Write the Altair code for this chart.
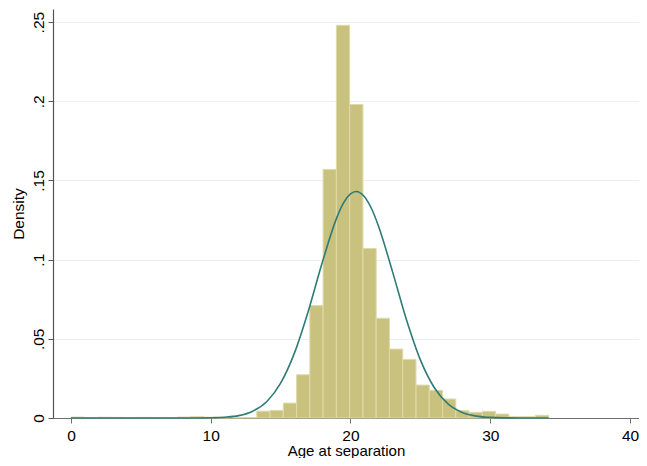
import altair as alt
import pandas as pd

# Histogram: bins start at 0 with equal width; density per bin
bin_start = 0.0
bin_width = 0.9495
density = [
    0.0006, 0.0003, 0.0005, 0.0004, 0.0003, 0.0004, 0.0003, 0.0002, 0.0006,
    0.0008, 0.0005, 0.0002, 0.0002, 0.0003, 0.0043, 0.0048, 0.0094, 0.0273,
    0.0710, 0.1570, 0.2480, 0.1980, 0.1070, 0.0630, 0.0435, 0.0370, 0.0208,
    0.0175, 0.0120, 0.0046, 0.0036, 0.0042, 0.0025, 0.0008, 0.0008, 0.0017,
]

# Normal density overlay
curve_x = [0, 4, 8, 10, 11, 12, 13, 14, 15, 16, 17, 18, 19, 19.5, 20, 20.4,
           21, 21.5, 22, 23, 24, 25, 26, 27, 28, 29, 30, 31, 32, 34.18]
curve_y = [0.0, 0.0, 0.00001, 0.00014, 0.0005, 0.0015, 0.0043, 0.0103, 0.0220,
           0.0413, 0.0681, 0.0988, 0.1261, 0.1358, 0.1415, 0.1430, 0.1397,
           0.1323, 0.1213, 0.0926, 0.0622, 0.0367, 0.0191, 0.0087, 0.0035,
           0.0012, 0.0004, 0.0001, 0.00003, 0.0]

x_ticks = [0, 10, 20, 30, 40]
y_ticks = [0, 0.05, 0.1, 0.15, 0.2, 0.25]

bars = pd.DataFrame({
    "left": [bin_start + k * bin_width for k in range(len(density))],
    "density": density,
})
bars["right"] = bars["left"] + bin_width
bars["base"] = 0.0

curve = pd.DataFrame({"x": curve_x, "y": curve_y})

FONT = "Liberation Sans"
FS = 15.5

xscale = alt.Scale(domain=[-1.288, 40.644], nice=False, zero=False)
yscale = alt.Scale(domain=[0, 0.2583], nice=False, zero=False)

x_axis = alt.Axis(
    values=x_ticks, title="Age at separation", grid=False, format="d",
    labelFontSize=FS, titleFontSize=15, labelFont=FONT, titleFont=FONT,
    labelColor="#000000", titleColor="#000000", titleFontWeight="normal",
    domainColor="#6e6e6e", tickColor="#6e6e6e", tickSize=5, domainWidth=1.2,
    labelPadding=5, titlePadding=0, labelFlush=False, labelOverlap=False,
)
y_axis = alt.Axis(
    values=y_ticks, title="Density", grid=True, gridColor="#e9f0f2", gridWidth=1,
    labelExpr="datum.value == 0 ? '0' : replace(format(datum.value, '.2~f'), '0.', '.')",
    labelAngle=270, labelAlign="center", labelBaseline="alphabetic",
    labelFontSize=FS, titleFontSize=FS, labelFont=FONT, titleFont=FONT,
    labelColor="#000000", titleColor="#000000", titleFontWeight="normal",
    domainColor="#555555", tickColor="#555555", tickSize=5, domainWidth=1.2,
    labelPadding=5, titlePadding=5, labelFlush=False, labelOverlap=False,
)

hist = alt.Chart(bars).mark_rect(
    color="#c9c27f", stroke="#dedaa9", strokeWidth=1
).encode(
    x=alt.X("left:Q", scale=xscale, axis=x_axis),
    x2="right:Q",
    y=alt.Y("density:Q", scale=yscale, axis=y_axis),
    y2="base:Q",
)

line = alt.Chart(curve).mark_line(
    color="#2f7b76", strokeWidth=1.6, interpolate="monotone"
).encode(
    x=alt.X("x:Q", scale=xscale),
    y=alt.Y("y:Q", scale=yscale),
)

chart = alt.layer(hist, line).properties(
    width=586, height=409,
    padding={"left": 45, "top": 1, "right": 0, "bottom": 40},
    autosize=alt.AutoSizeParams(type="none"),
    background="white",
).configure_view(strokeWidth=0)

chart.save("out.html", embed_options={"renderer": "svg", "actions": False})
